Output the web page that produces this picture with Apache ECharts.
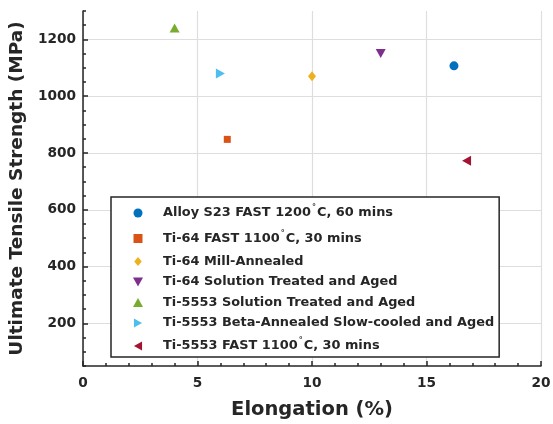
<!DOCTYPE html>
<html>
<head>
<meta charset="utf-8">
<script src="https://cdn.jsdelivr.net/npm/echarts@6/dist/echarts.min.js"></script>
<style>
  html, body { margin: 0; padding: 0; background: #fff; }
  #chart { width: 553px; height: 424px; }
</style>
</head>
<body>
<div id="chart"></div>
<script>
// data
const seriesNames = [
  "Alloy S23 FAST 1200°C, 60 mins",
  "Ti-64 FAST 1100°C, 30 mins",
  "Ti-64 Mill-Annealed",
  "Ti-64 Solution Treated and Aged",
  "Ti-5553 Solution Treated and Aged",
  "Ti-5553 Beta-Annealed Slow-cooled and Aged",
  "Ti-5553 FAST 1100°C, 30 mins",
];
const elongation = [16.2, 6.3, 10.0, 13.0, 4.0, 6.0, 16.75];
const strength = [1107, 848, 1070, 1150, 1240, 1080, 773];
const yTickValues = [200, 400, 600, 800, 1000, 1200];

const colors = ["#0072BD", "#D95319", "#EDB120", "#7E2F8E", "#77AC30", "#4DBEEE", "#A2142F"];
const symbols = [
  "circle",
  "path://M0,0L10,0L10,10L0,10Z",
  "path://M5,0L10,6L5,12L0,6Z",
  "path://M0,0L10,0L5,9Z",
  "path://M5,0L10,9L0,9Z",
  "path://M0,0L9,5L0,10Z",
  "path://M9,0L0,5L9,10Z",
];
const symbolSizes = [9, 7, [8, 10], [10, 9], [10, 9], [9, 10], [9, 10]];

const font = "DejaVu Sans";
const ink = "#262626";

const chart = echarts.init(document.getElementById("chart"));

function legendLabel(name) {
  // degree sign as a raised superscript
  return name.replace("°", "{sup|°}");
}

const option = {
  backgroundColor: "#fff",
  animation: false,
  grid: { left: 83, right: 12, top: 11, bottom: 58, outerBoundsMode: "none" },
  legend: {
    orient: "vertical",
    left: 111,
    top: 197,
    padding: [7, 5, 2, 22],
    itemGap: 7.5,
    itemWidth: 40,
    itemHeight: 9,
    symbolKeepAspect: true,
    selectedMode: false,
    backgroundColor: "#fff",
    borderColor: ink,
    borderWidth: 1.5,
    borderRadius: 0,
    data: seriesNames,
    formatter: legendLabel,
    textStyle: {
      fontFamily: font,
      fontWeight: "bold",
      fontSize: 12.9,
      color: ink,
      rich: {
        sup: { fontFamily: font, fontSize: 8, color: ink, lineHeight: 10, padding: [0, 1, 10, 1] },
      },
    },
  },
  xAxis: {
    type: "value",
    min: 0,
    max: 20,
    interval: 5,
    name: "Elongation (%)",
    nameLocation: "middle",
    nameGap: 34,
    nameTextStyle: { fontFamily: font, fontWeight: "bold", fontSize: 19.5, color: ink },
    axisLine: { lineStyle: { color: ink, width: 1.5 } },
    axisTick: { inside: true, length: 5, lineStyle: { color: ink, width: 1.5 } },
    minorTick: { show: true, splitNumber: 5, length: 3, lineStyle: { color: ink, width: 1.5 } },
    axisLabel: { fontFamily: font, fontWeight: "bold", fontSize: 13.7, color: ink, margin: 10 },
    splitLine: { show: true, lineStyle: { color: "#dedede", width: 1.2 } },
  },
  yAxis: [
    {
      type: "value",
      min: 50,
      max: 1300,
      name: "Ultimate Tensile Strength (MPa)",
      nameLocation: "middle",
      nameGap: 53,
      nameTextStyle: { fontFamily: font, fontWeight: "bold", fontSize: 18.5, color: ink },
      axisLine: { show: true, lineStyle: { color: ink, width: 1.5 } },
      axisTick: { show: true, inside: true, length: 5, customValues: yTickValues, lineStyle: { color: ink, width: 1.5 } },
      axisLabel: {
        fontFamily: font, fontWeight: "bold", fontSize: 13.7, color: ink, margin: 7,
        customValues: yTickValues,
        formatter: (v) => String(v),
      },
      splitLine: { show: true, lineStyle: { color: "#dedede", width: 1.2 } },
    },
    {
      // minor ticks every 50
      type: "value",
      position: "left",
      min: 50,
      max: 1300,
      interval: 50,
      axisLine: { show: false },
      axisTick: { show: true, inside: true, length: 3, lineStyle: { color: ink, width: 1.5 } },
      axisLabel: { show: false },
      splitLine: { show: false },
    },
  ],
  series: seriesNames.map((name, i) => ({
    name: name,
    type: "scatter",
    symbol: symbols[i],
    symbolSize: symbolSizes[i],
    itemStyle: { color: colors[i], opacity: 1 },
    data: [[elongation[i], strength[i]]],
    z: 1,
  })),
};

chart.setOption(option);
</script>
</body>
</html>
